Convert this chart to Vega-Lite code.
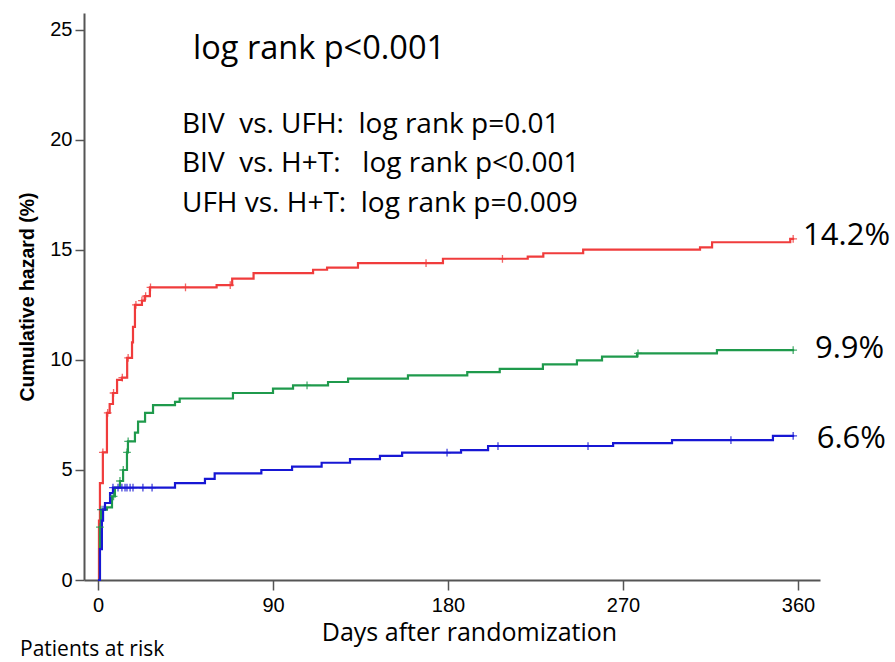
{
  "$schema": "https://vega.github.io/schema/vega-lite/v6.json",
  "width": 736,
  "height": 567,
  "autosize": "none",
  "padding": {"left": 84, "top": 13, "right": 75, "bottom": 82},
  "background": "white",
  "config": {"view": {"stroke": null}},
  "datasets": {
    "curves": [
      {"group": "H+T", "day": 0, "hazard": 0},
      {"group": "H+T", "day": 0.5, "hazard": 2.7},
      {"group": "H+T", "day": 1, "hazard": 4.4},
      {"group": "H+T", "day": 2.5, "hazard": 5.8},
      {"group": "H+T", "day": 4.6, "hazard": 7.6},
      {"group": "H+T", "day": 6, "hazard": 8.0},
      {"group": "H+T", "day": 7.7, "hazard": 8.5},
      {"group": "H+T", "day": 9.8, "hazard": 9.1},
      {"group": "H+T", "day": 12.3, "hazard": 9.2},
      {"group": "H+T", "day": 15, "hazard": 10.1},
      {"group": "H+T", "day": 17.5, "hazard": 10.8},
      {"group": "H+T", "day": 18, "hazard": 11.5},
      {"group": "H+T", "day": 19, "hazard": 12.5},
      {"group": "H+T", "day": 22.6, "hazard": 12.7},
      {"group": "H+T", "day": 24, "hazard": 12.9},
      {"group": "H+T", "day": 26.7, "hazard": 13.3},
      {"group": "H+T", "day": 61, "hazard": 13.4},
      {"group": "H+T", "day": 69, "hazard": 13.7},
      {"group": "H+T", "day": 80, "hazard": 13.95},
      {"group": "H+T", "day": 110.6, "hazard": 14.1},
      {"group": "H+T", "day": 117.8, "hazard": 14.2},
      {"group": "H+T", "day": 133.7, "hazard": 14.4},
      {"group": "H+T", "day": 177.4, "hazard": 14.6},
      {"group": "H+T", "day": 221, "hazard": 14.7},
      {"group": "H+T", "day": 229, "hazard": 14.85},
      {"group": "H+T", "day": 249.5, "hazard": 15.02},
      {"group": "H+T", "day": 309.6, "hazard": 15.12},
      {"group": "H+T", "day": 315.8, "hazard": 15.35},
      {"group": "H+T", "day": 356, "hazard": 15.5},
      {"group": "H+T", "day": 358, "hazard": 15.5},
      {"group": "UFH", "day": 0, "hazard": 0},
      {"group": "UFH", "day": 1, "hazard": 2.4},
      {"group": "UFH", "day": 1.5, "hazard": 3.2},
      {"group": "UFH", "day": 4.6, "hazard": 3.3},
      {"group": "UFH", "day": 7.2, "hazard": 3.8},
      {"group": "UFH", "day": 8.7, "hazard": 4.2},
      {"group": "UFH", "day": 11.3, "hazard": 4.5},
      {"group": "UFH", "day": 12.9, "hazard": 5.0},
      {"group": "UFH", "day": 14.9, "hazard": 5.8},
      {"group": "UFH", "day": 15.4, "hazard": 6.3},
      {"group": "UFH", "day": 19, "hazard": 6.7},
      {"group": "UFH", "day": 20.6, "hazard": 7.2},
      {"group": "UFH", "day": 24.2, "hazard": 7.6},
      {"group": "UFH", "day": 28.3, "hazard": 7.95},
      {"group": "UFH", "day": 39.6, "hazard": 8.1},
      {"group": "UFH", "day": 42, "hazard": 8.25},
      {"group": "UFH", "day": 69.4, "hazard": 8.5},
      {"group": "UFH", "day": 90, "hazard": 8.7},
      {"group": "UFH", "day": 100.3, "hazard": 8.85},
      {"group": "UFH", "day": 118.3, "hazard": 9.0},
      {"group": "UFH", "day": 128.6, "hazard": 9.15},
      {"group": "UFH", "day": 159.4, "hazard": 9.3},
      {"group": "UFH", "day": 189.9, "hazard": 9.45},
      {"group": "UFH", "day": 206.6, "hazard": 9.6},
      {"group": "UFH", "day": 228.8, "hazard": 9.8},
      {"group": "UFH", "day": 246.3, "hazard": 9.98},
      {"group": "UFH", "day": 259.2, "hazard": 10.15},
      {"group": "UFH", "day": 277.2, "hazard": 10.3},
      {"group": "UFH", "day": 318.3, "hazard": 10.45},
      {"group": "UFH", "day": 358, "hazard": 10.45},
      {"group": "BIV", "day": 0, "hazard": 0},
      {"group": "BIV", "day": 1, "hazard": 1.4},
      {"group": "BIV", "day": 2, "hazard": 2.7},
      {"group": "BIV", "day": 2.6, "hazard": 3.2},
      {"group": "BIV", "day": 3.6, "hazard": 3.5},
      {"group": "BIV", "day": 6.2, "hazard": 3.95},
      {"group": "BIV", "day": 7.7, "hazard": 4.2},
      {"group": "BIV", "day": 39.6, "hazard": 4.4},
      {"group": "BIV", "day": 55, "hazard": 4.6},
      {"group": "BIV", "day": 60, "hazard": 4.85},
      {"group": "BIV", "day": 84, "hazard": 5.0},
      {"group": "BIV", "day": 99.8, "hazard": 5.15},
      {"group": "BIV", "day": 115, "hazard": 5.33},
      {"group": "BIV", "day": 129.6, "hazard": 5.49},
      {"group": "BIV", "day": 145, "hazard": 5.64},
      {"group": "BIV", "day": 156.4, "hazard": 5.79},
      {"group": "BIV", "day": 186.7, "hazard": 5.9},
      {"group": "BIV", "day": 200.6, "hazard": 6.09},
      {"group": "BIV", "day": 264.9, "hazard": 6.22},
      {"group": "BIV", "day": 295.2, "hazard": 6.36},
      {"group": "BIV", "day": 347.1, "hazard": 6.55},
      {"group": "BIV", "day": 358, "hazard": 6.55}
    ],
    "censor": [
      {"group": "H+T", "day": 2.5, "hazard": 5.8},
      {"group": "H+T", "day": 5, "hazard": 7.6},
      {"group": "H+T", "day": 8, "hazard": 8.5},
      {"group": "H+T", "day": 12.5, "hazard": 9.2},
      {"group": "H+T", "day": 15.5, "hazard": 10.1},
      {"group": "H+T", "day": 19.5, "hazard": 12.5},
      {"group": "H+T", "day": 22.6, "hazard": 12.7},
      {"group": "H+T", "day": 24.5, "hazard": 12.9},
      {"group": "H+T", "day": 27, "hazard": 13.3},
      {"group": "H+T", "day": 45, "hazard": 13.3},
      {"group": "H+T", "day": 68, "hazard": 13.4},
      {"group": "H+T", "day": 168.7, "hazard": 14.4},
      {"group": "H+T", "day": 208, "hazard": 14.6},
      {"group": "H+T", "day": 357.5, "hazard": 15.5},
      {"group": "UFH", "day": 1, "hazard": 2.4},
      {"group": "UFH", "day": 1.5, "hazard": 3.2},
      {"group": "UFH", "day": 8, "hazard": 3.8},
      {"group": "UFH", "day": 11.3, "hazard": 4.5},
      {"group": "UFH", "day": 13, "hazard": 5.0},
      {"group": "UFH", "day": 14.9, "hazard": 5.8},
      {"group": "UFH", "day": 15.5, "hazard": 6.3},
      {"group": "UFH", "day": 107.5, "hazard": 8.85},
      {"group": "UFH", "day": 277.7, "hazard": 10.3},
      {"group": "UFH", "day": 357.5, "hazard": 10.45},
      {"group": "BIV", "day": 2.6, "hazard": 3.2},
      {"group": "BIV", "day": 7.7, "hazard": 4.2},
      {"group": "BIV", "day": 10.3, "hazard": 4.2},
      {"group": "BIV", "day": 12.3, "hazard": 4.2},
      {"group": "BIV", "day": 13.9, "hazard": 4.2},
      {"group": "BIV", "day": 14.9, "hazard": 4.2},
      {"group": "BIV", "day": 16.5, "hazard": 4.2},
      {"group": "BIV", "day": 18, "hazard": 4.2},
      {"group": "BIV", "day": 23.1, "hazard": 4.2},
      {"group": "BIV", "day": 27.8, "hazard": 4.2},
      {"group": "BIV", "day": 179.5, "hazard": 5.79},
      {"group": "BIV", "day": 205.7, "hazard": 6.09},
      {"group": "BIV", "day": 252, "hazard": 6.09},
      {"group": "BIV", "day": 325.5, "hazard": 6.36},
      {"group": "BIV", "day": 357.5, "hazard": 6.55}
    ],
    "endLabels": [
      {"group": "H+T", "day": 362.6, "hazard": 15.23, "label": "14.2%"},
      {"group": "UFH", "day": 368.7, "hazard": 10.09, "label": "9.9%"},
      {"group": "BIV", "day": 369.6, "hazard": 6.0, "label": "6.6%"}
    ],
    "notes": [
      {"day": 48.9, "hazard": 23.68, "label": "log rank p<0.001", "kind": "main"},
      {"day": 43.2, "hazard": 20.32, "label": "BIV \u00a0vs. UFH: \u00a0log rank p=0.01", "kind": "sub"},
      {"day": 43.2, "hazard": 18.55, "label": "BIV \u00a0vs. H+T: \u00a0\u00a0log rank p<0.001", "kind": "sub"},
      {"day": 43.2, "hazard": 16.73, "label": "UFH vs. H+T: \u00a0log rank p=0.009", "kind": "sub"}
    ],
    "risk": [
      {"day": -40.1, "hazard": -3.45, "label": "Patients at risk"}
    ]
  },
  "layer": [
    {
      "data": {"name": "curves"},
      "mark": {"type": "line", "interpolate": "step-after", "strokeWidth": 2.2},
      "encoding": {
        "x": {
          "field": "day", "type": "quantitative",
          "scale": {"domain": [-7.2, 371.3], "nice": false, "zero": false},
          "axis": {
            "values": [0, 90, 180, 270, 360],
            "title": "Days after randomization",
            "titleFont": "Open Sans", "titleFontSize": 25, "titleFontWeight": "normal", "titleColor": "black",
            "titlePadding": 5, "titleX": 385,
            "labelFont": "Liberation Sans", "labelFontSize": 20, "labelColor": "black", "labelPadding": 5,
            "tickSize": 10, "tickWidth": 1.5, "tickColor": "#555",
            "domainColor": "#555", "domainWidth": 2, "grid": false
          }
        },
        "y": {
          "field": "hazard", "type": "quantitative",
          "scale": {"domain": [0, 25.77], "nice": false},
          "axis": {
            "values": [0, 5, 10, 15, 20, 25],
            "title": "Cumulative hazard (%)",
            "titleFont": "Liberation Sans", "titleFontSize": 19.5, "titleFontWeight": "bold", "titleColor": "black",
            "titlePadding": 12,
            "labelFont": "Liberation Sans", "labelFontSize": 20, "labelColor": "black", "labelPadding": 3,
            "tickSize": 9, "tickWidth": 1.5, "tickColor": "#555",
            "domainColor": "#555", "domainWidth": 2, "grid": false
          }
        },
        "color": {
          "field": "group", "type": "nominal",
          "scale": {"domain": ["H+T", "UFH", "BIV"], "range": ["#f03c3c", "#1f9a4c", "#1717d4"]},
          "legend": null
        }
      }
    },
    {
      "data": {"name": "censor"},
      "mark": {"type": "point", "shape": "M0,-1V1M-1,0H1", "filled": false, "size": 60, "strokeWidth": 1.3, "opacity": 0.8},
      "encoding": {
        "x": {"field": "day", "type": "quantitative"},
        "y": {"field": "hazard", "type": "quantitative"},
        "color": {"field": "group", "type": "nominal", "legend": null}
      }
    },
    {
      "data": {"name": "endLabels"},
      "mark": {"type": "text", "align": "left", "baseline": "alphabetic", "font": "Open Sans", "fontSize": 31, "color": "black"},
      "encoding": {
        "x": {"field": "day", "type": "quantitative"},
        "y": {"field": "hazard", "type": "quantitative"},
        "text": {"field": "label"}
      }
    },
    {
      "data": {"name": "notes"},
      "mark": {"type": "text", "align": "left", "baseline": "alphabetic", "font": "Open Sans", "color": "black"},
      "encoding": {
        "x": {"field": "day", "type": "quantitative"},
        "y": {"field": "hazard", "type": "quantitative"},
        "text": {"field": "label"},
        "size": {"field": "kind", "type": "nominal", "scale": {"domain": ["main", "sub"], "range": [32.5, 28]}, "legend": null}
      }
    },
    {
      "data": {"name": "risk"},
      "mark": {"type": "text", "align": "left", "baseline": "alphabetic", "font": "Open Sans", "fontSize": 21, "color": "black"},
      "encoding": {
        "x": {"field": "day", "type": "quantitative"},
        "y": {"field": "hazard", "type": "quantitative"},
        "text": {"field": "label"}
      }
    }
  ]
}
